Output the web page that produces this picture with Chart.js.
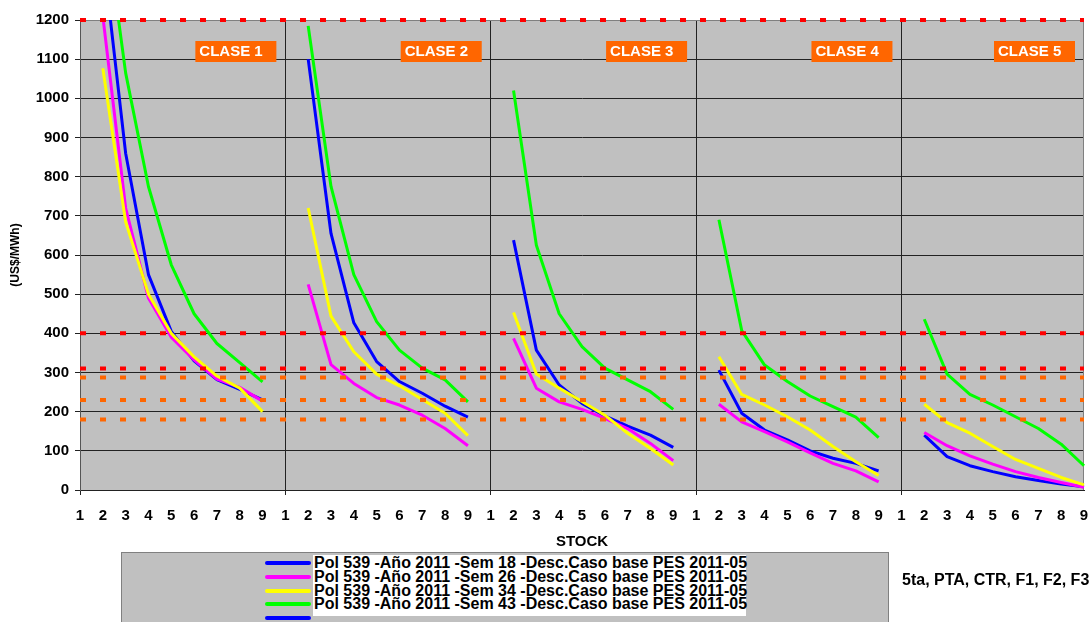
<!DOCTYPE html>
<html>
<head>
<meta charset="utf-8">
<script src="https://cdn.jsdelivr.net/npm/chart.js@4.4.0/dist/chart.umd.min.js"></script>
<style>
  body { margin: 0; background: #fff; font-family: "Liberation Sans", Arial, sans-serif; }
  #wrap { position: relative; width: 1091px; height: 622px; overflow: hidden; }
  #c { position: absolute; left: 0; top: 0; }
  #legendBox { position: absolute; left: 121px; top: 552px; width: 766px; height: 90px; background: #c0c0c0; border: 1px solid #808080; }
  #legendText { position: absolute; left: 313px; top: 555px; width: 433px; height: 61px; background: #fff; }
  .lrow { position: absolute; left: 314px; font-weight: bold; font-size: 16px; line-height: 13.6px; white-space: nowrap; color: #000; }
  .lmark { position: absolute; left: 265px; width: 46px; height: 4px; border-radius: 2px; }
  #note { position: absolute; left: 902px; top: 571px; font-weight: bold; font-size: 16px; line-height: 18px; white-space: nowrap; color: #000; }
</style>
</head>
<body>
<div id="wrap">
  <canvas id="c" width="1091" height="622"></canvas>
  <div id="legendBox"></div>
  <div id="legendText"></div>
  <div id="legendItems"></div>
  <div id="note"></div>
</div>
<script>
// ---- data ----
const stockLabels = ['1', '2', '3', '4', '5', '6', '7', '8', '9'];
const classNames = ['CLASE 1', 'CLASE 2', 'CLASE 3', 'CLASE 4', 'CLASE 5'];
const seriesNames = [
  'Pol 539 -Año 2011 -Sem 18 -Desc.Caso base PES 2011-05',
  'Pol 539 -Año 2011 -Sem 26 -Desc.Caso base PES 2011-05',
  'Pol 539 -Año 2011 -Sem 34 -Desc.Caso base PES 2011-05',
  'Pol 539 -Año 2011 -Sem 43 -Desc.Caso base PES 2011-05'
];
const noteText = '5ta, PTA, CTR, F1, F2, F3';
const yTitle = '(US$/MWh)';
const xTitle = 'STOCK';

// values at stock 2..9 for each class (stock 1 has no value)
const sem18 = [
  [1370, 860, 550, 405, 330, 282, 257, 230],
  [1100, 655, 427, 328, 277, 247, 214, 186],
  [638, 357, 268, 221, 189, 163, 140, 109],
  [306, 196, 153, 128, 100, 81, 68, 49],
  [140, 85, 62, 47, 34, 24, 15, 8]
];
const sem26 = [
  [1210, 720, 490, 390, 332, 283, 262, 227],
  [525, 320, 272, 236, 217, 191, 157, 113],
  [387, 260, 225, 206, 183, 157, 119, 75],
  [219, 174, 149, 123, 95, 68, 49, 21],
  [147, 113, 87, 66, 47, 32, 19, 7]
];
const sem34 = [
  [1077, 685, 500, 400, 340, 291, 260, 200],
  [720, 444, 353, 296, 266, 231, 196, 139],
  [453, 296, 260, 226, 191, 145, 106, 64],
  [340, 244, 217, 187, 153, 111, 72, 37],
  [219, 172, 145, 111, 78, 55, 32, 13]
];
const sem43 = [
  [1500, 1065, 775, 575, 450, 374, 325, 276],
  [1185, 775, 550, 430, 357, 311, 281, 225],
  [1020, 625, 450, 366, 311, 281, 251, 206],
  [690, 407, 319, 277, 240, 213, 186, 134],
  [436, 296, 244, 217, 187, 157, 117, 62]
];
const redLevels = [1200, 400, 310];
const orangeLevels = [287, 230, 180];

// ---- build ----
const categories = [];
classNames.forEach(() => stockLabels.forEach(l => categories.push(l)));
function buildSeries(arr) {
  const out = [];
  arr.forEach(vals => { out.push(null); vals.forEach(v => out.push(v)); });
  return out;
}
const colors = ['#0000FF', '#FF00FF', '#FFFF00', '#00FF00'];
const allSeries = [sem18, sem26, sem34, sem43];
const datasets = allSeries.map((s, i) => ({
  label: seriesNames[i],
  data: buildSeries(s),
  borderColor: colors[i],
  backgroundColor: colors[i],
  borderWidth: 3,
  pointRadius: 0,
  tension: 0,
  spanGaps: false,
  borderJoinStyle: 'round',
  clip: { left: 5, right: 5, top: 0, bottom: 5 },
  order: 4 - i
}));

// ---- legend (HTML) ----
const legendItems = document.getElementById('legendItems');
const legendColors = [colors[0], colors[1], colors[2], colors[3], colors[0]];
legendColors.forEach((c, i) => {
  const m = document.createElement('div');
  m.className = 'lmark';
  m.style.background = c;
  m.style.top = (561.3 + 13.6 * i) + 'px';
  legendItems.appendChild(m);
  if (i < seriesNames.length) {
    const t = document.createElement('div');
    t.className = 'lrow';
    t.style.top = (556.4 + 13.6 * i) + 'px';
    t.textContent = seriesNames[i];
    legendItems.appendChild(t);
  }
});
document.getElementById('note').textContent = noteText;

// ---- plugin ----
const decor = {
  id: 'decor',
  beforeDraw(chart) {
    const { ctx, chartArea: a } = chart;
    ctx.save();
    ctx.fillStyle = '#C0C0C0';
    ctx.fillRect(a.left, a.top, a.right - a.left, a.bottom - a.top);
    ctx.restore();
  },
  beforeDatasetsDraw(chart) {
    const { ctx, chartArea: a } = chart;
    ctx.save();
    ctx.strokeStyle = '#808080';
    ctx.lineWidth = 1;
    ctx.beginPath();
    ctx.moveTo(a.right - 0.5, a.top);
    ctx.lineTo(a.right - 0.5, a.bottom);
    ctx.moveTo(a.left, a.top + 0.5);
    ctx.lineTo(a.right, a.top + 0.5);
    ctx.stroke();
    ctx.restore();
  },
  afterDatasetsDraw(chart) {
    const { ctx, chartArea: a, scales } = chart;
    const y = scales.y;
    ctx.save();
    ctx.lineWidth = 4;
    ctx.setLineDash([6, 14]);
    const drawLevel = (v, col) => {
      const py = y.getPixelForValue(v);
      ctx.strokeStyle = col;
      ctx.beginPath();
      ctx.moveTo(a.left, py);
      ctx.lineTo(a.right, py);
      ctx.stroke();
    };
    orangeLevels.forEach(v => drawLevel(v, '#FF6600'));
    redLevels.forEach(v => drawLevel(v, '#FF0000'));
    ctx.restore();
  },
  afterDraw(chart) {
    const { ctx, chartArea: a, scales } = chart;
    const x = scales.x;
    ctx.save();
    ctx.font = 'bold 15px "Liberation Sans", Arial, sans-serif';
    ctx.textBaseline = 'middle';
    classNames.forEach((name, k) => {
      const right = (k < classNames.length - 1) ? x.getPixelForValue(9 * (k + 1)) : a.right;
      const bx = right - 9 - 81;
      const by = a.top + 21;
      ctx.fillStyle = '#FF6600';
      ctx.fillRect(bx, by, 81, 21);
      ctx.fillStyle = '#FFFFFF';
      ctx.fillText(name, bx + 4, by + 11);
    });
    ctx.restore();
  }
};

Chart.defaults.font.family = '"Liberation Sans", Arial, sans-serif';
Chart.defaults.color = '#000';

new Chart(document.getElementById('c'), {
  type: 'line',
  data: { labels: categories, datasets },
  options: {
    responsive: false,
    devicePixelRatio: 1,
    animation: false,
    layout: { padding: { top: 20, right: 7, left: 0, bottom: 0 } },
    plugins: { legend: { display: false }, tooltip: { enabled: false } },
    scales: {
      x: {
        type: 'category',
        offset: false,
        afterFit: s => { s.height = 132; s.paddingLeft = 0; s.paddingRight = 0; },
        ticks: { autoSkip: false, maxRotation: 0, minRotation: 0, padding: 12, font: { size: 15, weight: 'bold' }, color: '#000' },
        grid: {
          color: c => (c.index % 9 === 0 ? '#222' : 'rgba(0,0,0,0)'),
          tickColor: c => (c.index % 9 === 0 ? '#222' : 'rgba(0,0,0,0)'),
          tickLength: 5,
          lineWidth: 1
        },
        border: { color: '#222', width: 1 },
        title: { display: true, text: xTitle, font: { size: 15, weight: 'bold' }, color: '#000', padding: { top: 0, bottom: 71 } }
      },
      y: {
        min: 0,
        max: 1200,
        afterFit: s => { s.width = 80; },
        ticks: { stepSize: 100, padding: 6, font: { size: 15, weight: 'bold' }, color: '#000', callback: v => String(v) },
        grid: { color: '#222', tickColor: '#222', tickLength: 5, lineWidth: 1 },
        border: { color: '#555', width: 1 },
        title: { display: true, text: yTitle, font: { size: 12, weight: 'bold' }, color: '#000', padding: { top: 8, bottom: 0 } }
      }
    }
  },
  plugins: [decor]
});
</script>
</body>
</html>
